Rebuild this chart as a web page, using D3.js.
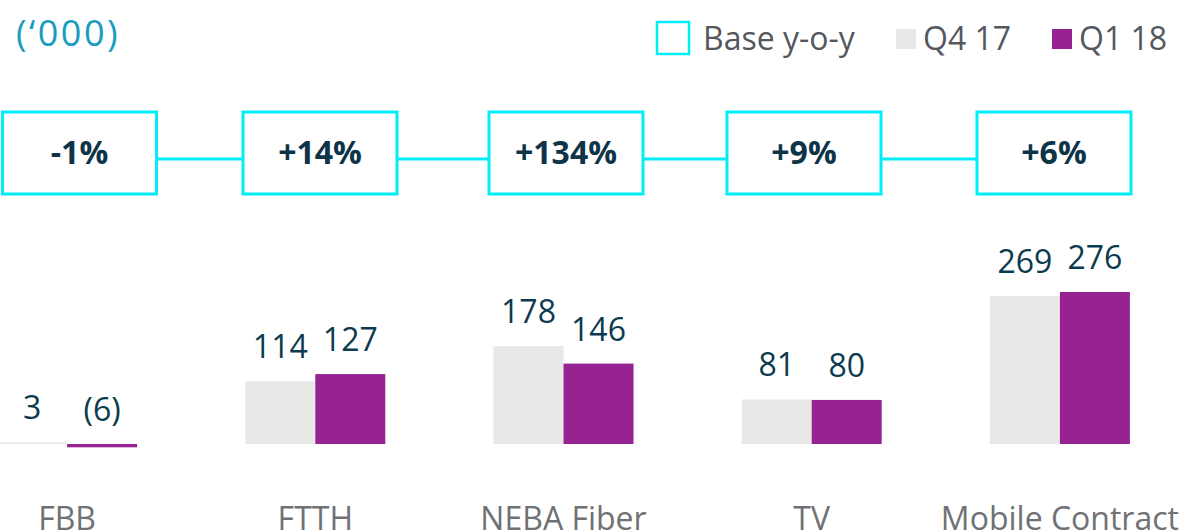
<!DOCTYPE html>
<html>
<head>
<meta charset="utf-8">
<script src="https://cdn.jsdelivr.net/npm/d3@7"></script>
<style>
  html, body { margin: 0; padding: 0; background: #fff; }
  svg { display: block; font-family: "Open Sans", sans-serif; }
</style>
</head>
<body>
<svg id="chart" width="1190" height="532"></svg>
<script>
// ---- data ----
const categories = ["FBB", "FTTH", "NEBA Fiber", "TV", "Mobile Contract"];
const seriesNames = ["Q4 17", "Q1 18"];
const q4_17 = [3, 114, 178, 81, 269];
const q1_18 = [-6, 127, 146, 80, 276];
const baseYoY = ["-1%", "+14%", "+134%", "+9%", "+6%"];
const unitLabel = "(‘000)";
const legendBaseLabel = "Base y-o-y";

// ---- styles ----
const colors = { "Q4 17": "#e8e8e6", "Q1 18": "#972393" };
const cyan = "#00eef8";
const valueColor = "#0c3a4e";
const catColor = "#707174";
const legendColor = "#54575e";

const svg = d3.select("#chart");

// scales
const x0 = d3.scaleBand().domain(categories).range([-57, 1184]).paddingInner(0).paddingOuter(0);
const x1 = d3.scaleBand().domain(seriesNames).range([0, 140]);
const y = d3.scaleLinear().domain([0, 300]).range([444, 278.8]);
const boxX = d3.scaleOrdinal().domain(categories).range([79.5, 320, 566, 804, 1054]);

const rows = categories.map((c, i) => ({
  cat: c,
  vals: [{ s: "Q4 17", v: q4_17[i] }, { s: "Q1 18", v: q1_18[i] }],
  yoy: baseYoY[i]
}));

// unit label
svg.append("text").attr("x", 16).attr("y", 46)
  .attr("fill", "#1a9bc0").attr("font-size", 36).attr("letter-spacing", 2.5)
  .text(unitLabel);

// legend
const lg = svg.append("g");
lg.append("rect").attr("x", 657).attr("y", 22).attr("width", 32).attr("height", 32)
  .attr("fill", "#fff").attr("stroke", cyan).attr("stroke-width", 2.5);
lg.append("text").attr("x", 703).attr("y", 50).attr("font-size", 32).attr("fill", legendColor).text(legendBaseLabel);
const legendItems = [{ s: "Q4 17", rx: 896, tx: 923 }, { s: "Q1 18", rx: 1052, tx: 1079 }];
legendItems.forEach(d => {
  lg.append("rect").attr("x", d.rx).attr("y", 29).attr("width", 20).attr("height", 20).attr("fill", colors[d.s]);
  lg.append("text").attr("x", d.tx).attr("y", 50).attr("font-size", 32).attr("fill", legendColor).text(d.s);
});

// connecting line + boxes
const boxW = 154, boxTop = 112, boxH = 82, lineY = 159;
svg.append("line")
  .attr("x1", boxX(categories[0])).attr("x2", boxX(categories[categories.length - 1]))
  .attr("y1", lineY).attr("y2", lineY)
  .attr("stroke", cyan).attr("stroke-width", 3);
const boxes = svg.append("g").selectAll("g").data(rows).join("g")
  .attr("transform", d => `translate(${boxX(d.cat)},0)`);
boxes.append("rect").attr("x", -boxW / 2).attr("y", boxTop).attr("width", boxW).attr("height", boxH)
  .attr("fill", "#fff").attr("stroke", cyan).attr("stroke-width", 3);
boxes.append("text").attr("x", 0).attr("y", 164).attr("text-anchor", "middle")
  .attr("font-size", 32).attr("font-weight", 700).attr("fill", "#0e3447")
  .text(d => d.yoy);

// bars
const groups = svg.append("g").selectAll("g").data(rows).join("g")
  .attr("transform", d => `translate(${x0(d.cat) + x0.bandwidth() / 2 - 70},0)`);
groups.selectAll("rect").data(d => d.vals).join("rect")
  .attr("x", d => x1(d.s)).attr("width", x1.bandwidth())
  .attr("y", d => Math.min(y(d.v), y(0)))
  .attr("height", d => Math.abs(y(d.v) - y(0)))
  .attr("fill", d => colors[d.s]);
groups.selectAll("text").data(d => d.vals).join("text")
  .attr("x", d => x1(d.s) + x1.bandwidth() / 2)
  .attr("y", d => Math.min(y(d.v), y(0)) - 23)
  .attr("text-anchor", "middle").attr("font-size", 32).attr("fill", valueColor)
  .text(d => d.v < 0 ? `(${Math.abs(d.v)})` : d.v);

// category labels
svg.append("g").selectAll("text").data(categories).join("text")
  .attr("x", d => x0(d) + x0.bandwidth() / 2).attr("y", 530)
  .attr("text-anchor", "middle").attr("font-size", 32).attr("fill", catColor)
  .text(d => d);
</script>
</body>
</html>
